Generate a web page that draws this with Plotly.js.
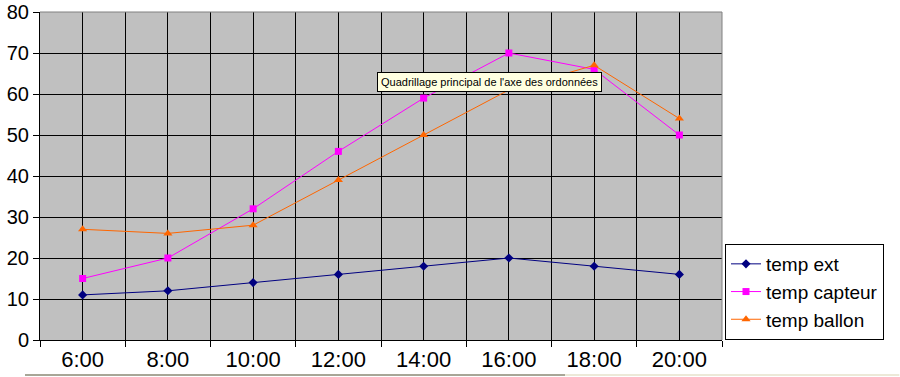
<!DOCTYPE html>
<html>
<head>
<meta charset="utf-8">
<script src="https://cdn.plot.ly/plotly-3.0.1.min.js"></script>
<style>html,body{margin:0;padding:0;background:#fff;}#chart{width:900px;height:377px;}</style>
</head>
<body>
<div id="chart"></div>
<script>
const categories = ["6:00", "8:00", "10:00", "12:00", "14:00", "16:00", "18:00", "20:00"];
const tempExt = [11, 12, 14, 16, 18, 20, 18, 16];
const tempCapteur = [15, 20, 32, 46, 59, 70, 66, 50];
const tempBallon = [27, 26, 28, 39, 50, 61, 67, 54];
const seriesNames = ["temp ext", "temp capteur", "temp ballon"];
const yTicks = [0, 10, 20, 30, 40, 50, 60, 70, 80];

const idx = categories.map((c, i) => i);

const traces = [
  {x: idx, y: tempExt, name: seriesNames[0], mode: "lines+markers",
   line: {color: "#000080", width: 1}, marker: {symbol: "diamond", size: 7, color: "#000080"}},
  {x: idx, y: tempCapteur, name: seriesNames[1], mode: "lines+markers",
   line: {color: "#FF00FF", width: 1}, marker: {symbol: "square", size: 7, color: "#FF00FF"}},
  {x: idx, y: tempBallon, name: seriesNames[2], mode: "lines+markers",
   line: {color: "#FF6600", width: 1}, marker: {symbol: "triangle-up", size: 8, color: "#FF6600"}}
];

const layout = {
  width: 900, height: 377,
  margin: {l: 40, r: 178, t: 12, b: 37, pad: 0},
  paper_bgcolor: "#FFFFFF",
  plot_bgcolor: "#C0C0C0",
  font: {family: "Arial, 'Liberation Sans', sans-serif", size: 20, color: "#000"},
  showlegend: true,
  legend: {x: 1.0044, y: 0, xanchor: "left", yanchor: "bottom",
           bordercolor: "#000", borderwidth: 1, bgcolor: "#FFFFFF",
           font: {size: 19, family: "Arial, 'Liberation Sans', sans-serif"},
           tracegroupgap: 0},
  xaxis: {
    range: [-0.5, 7.5], tickvals: idx, ticktext: categories,
    ticks: "", showgrid: true, gridcolor: "#000", gridwidth: 1,
    zeroline: false, showline: true, linecolor: "#000", linewidth: 1,
    minor: {tick0: -0.5, dtick: 1, ticks: "outside", ticklen: 6, tickcolor: "#000",
            showgrid: true, gridcolor: "#000", gridwidth: 1},
    tickfont: {size: 22}, fixedrange: true
  },
  yaxis: {
    range: [0, 80], tickvals: yTicks, ticks: "outside", ticklen: 6, tickcolor: "#000",
    showgrid: true, gridcolor: "#000", gridwidth: 1, zeroline: false,
    showline: true, linecolor: "#000", linewidth: 1, tickfont: {size: 20}, fixedrange: true
  },
  shapes: [
    {type: "line", xref: "paper", yref: "paper", x0: 0, x1: 1, y0: 1, y1: 1, line: {color: "#808080", width: 1}},
    {type: "line", xref: "paper", yref: "paper", x0: 1, x1: 1, y0: 0, y1: 1, line: {color: "#808080", width: 1}},
    {type: "line", xref: "paper", yref: "paper", x0: -0.022, x1: 0.77, y0: -0.107, y1: -0.107, line: {color: "#A8A697", width: 2}},
    {type: "line", xref: "paper", yref: "paper", x0: 0.77, x1: 1.26, y0: -0.107, y1: -0.107, line: {color: "#ECE9D8", width: 2}}
  ],
  annotations: [
    {xref: "paper", yref: "paper", x: 0.494, y: 0.817, xanchor: "left", yanchor: "top",
     text: "Quadrillage principal de l'axe des ordonnées", showarrow: false,
     font: {size: 11, family: "Arial, 'Liberation Sans', sans-serif", color: "#000"},
     bgcolor: "#FFFFE1", bordercolor: "#000", borderwidth: 1, borderpad: 3}
  ]
};

Plotly.newPlot("chart", traces, layout, {displayModeBar: false, staticPlot: true});
</script>
</body>
</html>
